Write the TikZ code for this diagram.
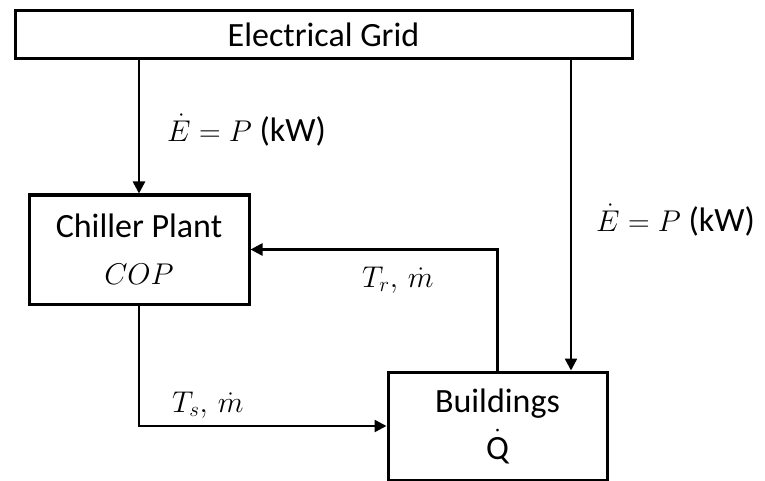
\RequirePackage{fix-cm}
\documentclass[tikz,border=0pt]{standalone}
\usepackage{fontspec}
\setmainfont{Carlito}
\usetikzlibrary{arrows.meta}
\newcommand\mth[1]{{\fontsize{30}{47}\selectfont$#1$}}
\begin{document}
\begin{tikzpicture}[x=1pt,y=-1pt,
  font=\fontsize{34}{47}\selectfont,
  box/.style={draw, line width=3pt, inner sep=0pt, align=center},
  flow/.style={line width=2.5pt, -{Triangle[length=12pt,width=12pt]}},
  lbl/.style={inner sep=0pt, anchor=west}]
\useasboundingbox (0,0) rectangle (765,481);
\node[box, minimum width=617pt, minimum height=48pt] (grid) at (323.5,35) {Electrical Grid};
\node[box, minimum width=220pt, minimum height=109pt] (chiller) at (139,249.5) {Chiller Plant\\\mth{COP}};
\node[box, minimum width=219pt, minimum height=108pt] (bldg) at (497.5,426) {Buildings\\$\dot{\mbox{Q}}$};
\coordinate (ex) at (571,0);
\draw[flow] (chiller.north |- grid.south) -- (chiller.north);
\draw[flow] (grid.south -| ex) -- (bldg.north -| ex);
\draw[flow] (bldg.north) |- (chiller.east);
\draw[flow] (chiller.south) |- (bldg.west);
\node[lbl] (l1) at (167,130) {\mth{\dot{E} = P} (kW)};
\node[lbl] (l2) at (596,220) {\mth{\dot{E} = P} (kW)};
\node[lbl] (l3) at (362,280) {\mth{T_r,\, \dot{m}}};
\node[lbl] (l4) at (172,405) {\mth{T_s,\, \dot{m}}};
\end{tikzpicture}
\end{document}
